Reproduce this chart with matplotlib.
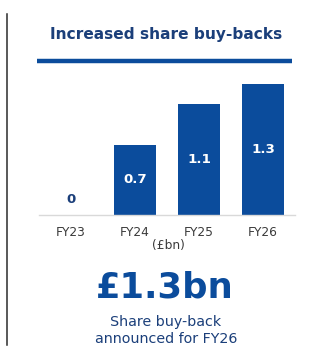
import matplotlib
matplotlib.use("Agg")
import matplotlib.pyplot as plt
from matplotlib.lines import Line2D

# chart data
years = ["FY23", "FY24", "FY25", "FY26"]
buybacks = [0, 0.7, 1.1, 1.3]
value_labels = ["0", "0.7", "1.1", "1.3"]

W, H = 326, 362
BLUE = "#0b4c9c"
NAVY = "#1b3f7a"

plt.rcParams["font.family"] = ["DejaVu Sans"]

fig = plt.figure(figsize=(W / 100, H / 100), dpi=100)
fig.patch.set_facecolor("white")


def fx(px):
    return px / W


def fy(py):
    return 1 - py / H


# left border line
fig.add_artist(Line2D([fx(6.5), fx(6.5)], [fy(14), fy(345)], color="#2b2b2b", lw=1.1))

# title + thick rule
fig.text(fx(166), fy(34), "Increased share buy-backs", ha="center", va="center",
         fontsize=11.1, fontweight="bold", color=NAVY)
fig.add_artist(Line2D([fx(37), fx(292)], [fy(61), fy(61)], color=BLUE, lw=3.2,
                      solid_capstyle="butt"))

# bar chart
ax = fig.add_axes([fx(39), fy(215), fx(256), 141 / H])
x = range(len(years))
ax.bar(x, buybacks, width=0.66, color=BLUE)
ax.set_xlim(-0.5, 3.5)
ax.set_ylim(0, 1.4)
for s in ["top", "right", "left"]:
    ax.spines[s].set_visible(False)
ax.spines["bottom"].set_color("#d9d9d9")
ax.spines["bottom"].set_linewidth(1.0)
ax.set_yticks([])
ax.set_xticks(list(x))
ax.set_xticklabels(years, fontsize=8.8, color="#3a3a3a")
ax.tick_params(axis="x", length=0, pad=8)

for i, (v, lab) in enumerate(zip(buybacks, value_labels)):
    if v == 0:
        ax.text(i, 0.15, lab, ha="center", va="center", fontsize=9.6,
                fontweight="bold", color=NAVY)
    else:
        ax.text(i, v / 2, lab, ha="center", va="center", fontsize=9.6,
                fontweight="bold", color="white")

fig.text(fx(168), fy(246), "(£bn)", ha="center", va="center", fontsize=8.8, color="#3a3a3a")

# headline figure
fig.text(fx(165), fy(287), "£1.3bn", ha="center", va="center",
         fontsize=25.5, fontweight="bold", color=BLUE)
fig.text(fx(166), fy(322), "Share buy-back", ha="center", va="center",
         fontsize=10.3, color=NAVY)
fig.text(fx(166), fy(339), "announced for FY26", ha="center", va="center",
         fontsize=10.3, color=NAVY)

fig.savefig("out.png", dpi=100, facecolor="white")
